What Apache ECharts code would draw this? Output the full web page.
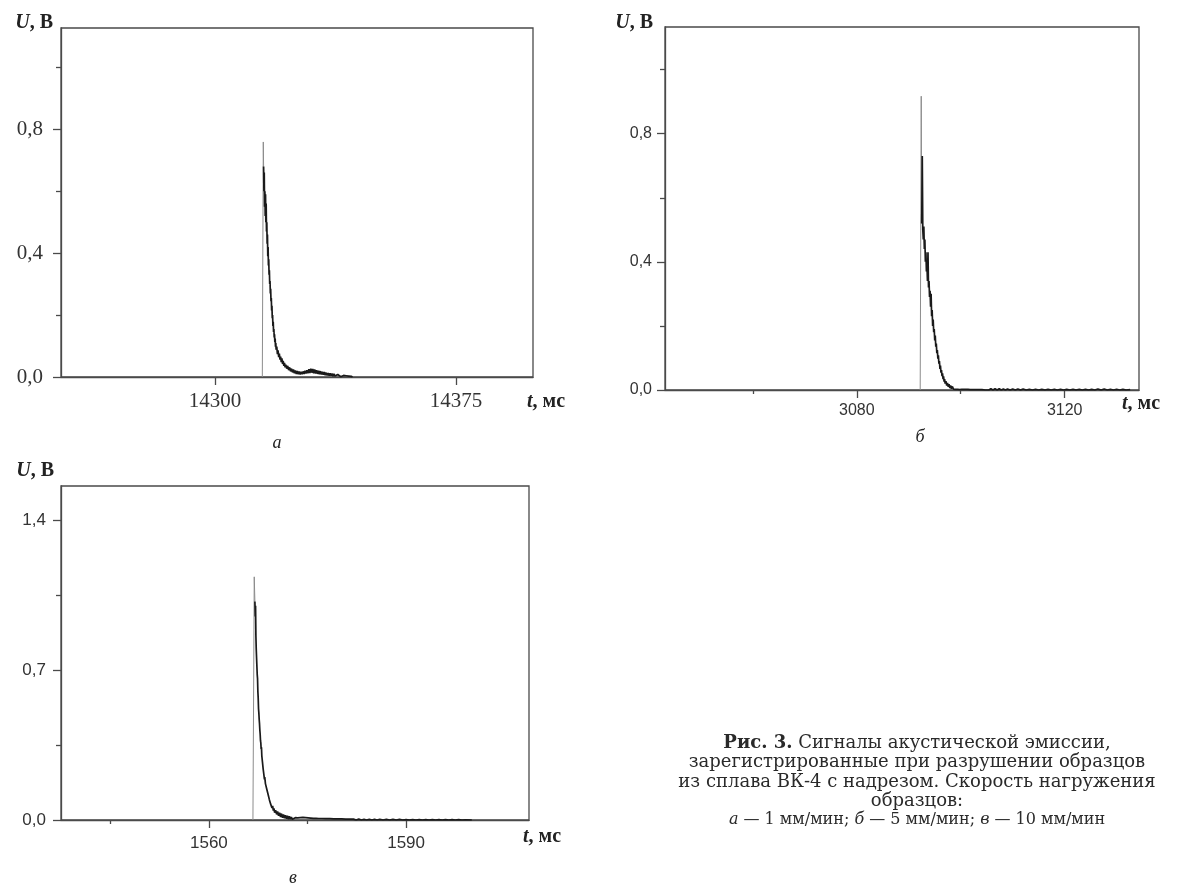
<!DOCTYPE html>
<html>
<head>
<meta charset="utf-8">
<script src="https://cdn.jsdelivr.net/npm/echarts@6.0.0/dist/echarts.min.js"></script>
<style>
html, body { margin: 0; padding: 0; background: #fff; }
#chart { width: 1178px; height: 884px; }
</style>
</head>
<body>
<div id="chart"></div>
<script>
// ---- panel а (1 мм/мин) ----
var edgeA = [[14314.7, 0], [14315.0, 0.759], [14315.1, 0.68]];
var signalA = [[14315.1,0.68],[14315.2,0.60],[14315.3,0.66],[14315.4,0.55],[14315.5,0.60],[14315.6,0.52],[14315.7,0.59],[14315.8,0.50],[14315.9,0.56],[14316.0,0.47],[14316.1,0.50],[14316.2,0.43],[14316.3,0.46],[14316.4,0.39],[14316.5,0.42],[14316.6,0.36],[14316.7,0.38],[14316.8,0.33],[14316.9,0.345],[14317.0,0.30],[14317.1,0.31],[14317.2,0.27],[14317.3,0.285],[14317.4,0.245],[14317.5,0.255],[14317.6,0.215],[14317.7,0.23],[14317.8,0.19],[14317.9,0.20],[14318.0,0.165],[14318.1,0.178],[14318.2,0.145],[14318.3,0.155],[14318.4,0.128],[14318.5,0.138],[14318.6,0.112],[14318.7,0.124],[14318.8,0.098],[14318.9,0.11],[14319.0,0.088],[14319.2,0.098],[14319.4,0.074],[14319.6,0.086],[14319.8,0.064],[14320.0,0.076],[14320.2,0.056],[14320.4,0.066],[14320.6,0.048],[14320.8,0.06],[14321.0,0.042],[14321.2,0.052],[14321.4,0.036],[14321.6,0.046],[14321.8,0.031],[14322.0,0.04],[14322.3,0.027],[14322.6,0.036],[14322.9,0.022],[14323.2,0.031],[14323.5,0.018],[14323.8,0.027],[14324.1,0.015],[14324.4,0.024],[14324.7,0.012],[14325.0,0.021],[14325.3,0.010],[14325.6,0.019],[14325.9,0.009],[14326.2,0.018],[14326.5,0.008],[14326.8,0.017],[14327.1,0.009],[14327.4,0.018],[14327.7,0.010],[14328.0,0.02],[14328.3,0.011],[14328.6,0.022],[14328.9,0.012],[14329.2,0.025],[14329.5,0.013],[14329.8,0.027],[14330.1,0.014],[14330.4,0.026],[14330.7,0.012],[14331.0,0.024],[14331.3,0.011],[14331.6,0.022],[14331.9,0.010],[14332.2,0.02],[14332.5,0.009],[14332.8,0.019],[14333.1,0.008],[14333.4,0.017],[14333.7,0.007],[14334.0,0.016],[14334.3,0.006],[14334.6,0.014],[14334.9,0.005],[14335.2,0.013],[14335.5,0.004],[14335.8,0.012],[14336.1,0.004],[14336.4,0.011],[14336.7,0.003],[14337.0,0.01],[14337.3,0.003],[14337.6,0.009],[14337.9,0.002],[14338.2,0.008],[14338.5,0.002],[14338.8,0.007],[14339.1,0.001],[14339.4,0.006],[14339.7,0.001],[14340.0,0.005],[14340.4,0.001],[14340.8,0.004],[14341.2,0.0],[14341.6,0.003],[14342.0,0.0],[14342.4,0.002],[14342.8,0.0]];
var rangeA = [14252, 14399, 0, 1.127];
var xLabelsA = [14300, 14375];
var xMinorA = [];
var yLabelsA = [0, 0.4, 0.8];
var yMinorA = [0.2, 0.6, 1.0];

// ---- panel б (5 мм/мин) ----
var edgeB = [[3092.2, 0], [3092.4, 0.917], [3092.5, 0.52]];
var signalB = [[3092.5,0.52],[3092.6,0.73],[3092.7,0.50],[3092.8,0.47],[3092.9,0.51],[3093.0,0.44],[3093.1,0.47],[3093.2,0.40],[3093.3,0.43],[3093.4,0.37],[3093.5,0.39],[3093.6,0.34],[3093.7,0.43],[3093.8,0.32],[3093.9,0.34],[3094.0,0.29],[3094.1,0.31],[3094.2,0.26],[3094.3,0.30],[3094.4,0.23],[3094.5,0.25],[3094.6,0.20],[3094.7,0.22],[3094.8,0.18],[3094.9,0.19],[3095.0,0.155],[3095.1,0.17],[3095.2,0.135],[3095.3,0.145],[3095.4,0.115],[3095.5,0.125],[3095.6,0.098],[3095.7,0.108],[3095.8,0.082],[3095.9,0.09],[3096.0,0.066],[3096.1,0.076],[3096.2,0.054],[3096.3,0.062],[3096.4,0.043],[3096.5,0.052],[3096.6,0.034],[3096.7,0.043],[3096.8,0.026],[3096.9,0.034],[3097.0,0.02],[3097.15,0.028],[3097.3,0.014],[3097.45,0.022],[3097.6,0.01],[3097.75,0.018],[3097.9,0.006],[3098.05,0.014],[3098.2,0.004],[3098.4,0.011],[3098.6,0.003],[3098.8,0.009],[3099.0,0.002],[3099.2,0.008],[3099.4,0.002],[3099.6,0.007],[3099.8,0.001],[3100.0,0.006],[3100.2,0.002],[3100.4,0.007],[3100.6,0.002],[3100.8,0.008],[3101.0,0.002],[3101.2,0.007],[3101.4,0.002],[3101.6,0.007],[3101.8,0.001],[3102.0,0.006],[3102.3,0.001],[3102.6,0.006],[3102.9,0.001],[3103.2,0.005],[3103.5,0.001],[3103.8,0.005],[3104.1,0.001],[3104.4,0.005],[3104.7,0.0],[3105.0,0.004],[3105.4,0.0],[3105.8,0.004],[3106.2,0.0],[3106.6,0.004],[3107.0,0.0],[3107.4,0.004],[3107.8,0.0],[3108.2,0.003],[3108.6,0.0],[3109.0,0.003],[3109.5,0.0],[3110.0,0.003],[3110.5,0.0],[3111.0,0.003],[3111.5,0.0],[3112,0.003],[3112.6,0.0],[3113.2,0.002],[3113.8,0.0],[3114.4,0.002],[3115,0.0],[3115.6,0.002],[3116.2,0.0],[3116.8,0.002],[3117.4,0.0],[3118,0.002],[3118.6,0.0],[3119.2,0.002],[3119.8,0.0],[3120.4,0.002],[3121,0.0],[3121.6,0.002],[3122.2,0.0],[3122.8,0.002],[3123.4,0.0],[3124,0.002],[3124.6,0.0],[3125.2,0.002],[3125.8,0.0],[3126.4,0.003],[3127,0.0],[3127.6,0.003],[3128.2,0.0],[3128.8,0.002],[3129.4,0.0],[3130,0.002],[3130.6,0.0],[3131.2,0.002],[3131.8,0.0],[3132.6,0.001]];
var rangeB = [3043.1, 3134.3, 0, 1.133];
var xLabelsB = [3080, 3120];
var xMinorB = [3060, 3100];
var yLabelsB = [0, 0.4, 0.8];
var yMinorB = [0.2, 0.6, 1.0];

// ---- panel в (10 мм/мин) ----
var edgeC = [[1566.7, 0], [1566.9, 1.135], [1567.0, 1.02]];
var signalC = [[1567.0,1.02],[1567.05,0.95],[1567.1,1.0],[1567.15,0.86],[1567.2,0.80],[1567.25,0.76],[1567.3,0.72],[1567.35,0.68],[1567.4,0.66],[1567.45,0.60],[1567.5,0.57],[1567.55,0.52],[1567.6,0.50],[1567.65,0.47],[1567.7,0.45],[1567.75,0.42],[1567.8,0.40],[1567.85,0.37],[1567.9,0.36],[1567.95,0.33],[1568.0,0.34],[1568.05,0.30],[1568.1,0.30],[1568.15,0.27],[1568.2,0.27],[1568.25,0.24],[1568.3,0.245],[1568.35,0.215],[1568.4,0.22],[1568.45,0.19],[1568.5,0.2],[1568.6,0.17],[1568.7,0.175],[1568.8,0.145],[1568.9,0.15],[1569.0,0.12],[1569.1,0.125],[1569.2,0.095],[1569.3,0.1],[1569.4,0.074],[1569.5,0.08],[1569.6,0.056],[1569.7,0.066],[1569.8,0.044],[1569.9,0.054],[1570.0,0.034],[1570.15,0.046],[1570.3,0.026],[1570.45,0.04],[1570.6,0.02],[1570.75,0.034],[1570.9,0.014],[1571.05,0.03],[1571.2,0.01],[1571.35,0.026],[1571.5,0.008],[1571.65,0.022],[1571.8,0.006],[1571.95,0.02],[1572.1,0.004],[1572.25,0.017],[1572.4,0.004],[1572.55,0.014],[1572.7,0.003],[1572.85,0.012],[1573.0,0.002],[1573.15,0.011],[1573.3,0.002],[1573.5,0.01],[1573.7,0.002],[1573.9,0.011],[1574.1,0.003],[1574.3,0.012],[1574.5,0.003],[1574.7,0.011],[1574.9,0.002],[1575.1,0.01],[1575.3,0.002],[1575.5,0.009],[1575.7,0.001],[1575.9,0.008],[1576.1,0.001],[1576.3,0.008],[1576.5,0.001],[1576.7,0.007],[1576.9,0.001],[1577.2,0.007],[1577.5,0.001],[1577.8,0.006],[1578.1,0.0],[1578.4,0.006],[1578.7,0.0],[1579.0,0.005],[1579.3,0.0],[1579.6,0.005],[1579.9,0.0],[1580.2,0.005],[1580.5,0.0],[1580.8,0.004],[1581.1,0.0],[1581.4,0.004],[1581.7,0.0],[1582.0,0.004],[1582.4,0.0],[1582.8,0.004],[1583.2,0.0],[1583.6,0.003],[1584.0,0.0],[1584.4,0.003],[1584.8,0.0],[1585.2,0.003],[1585.6,0.0],[1586.0,0.003],[1586.5,0.0],[1587.0,0.003],[1587.5,0.0],[1588.0,0.003],[1588.5,0.0],[1589.0,0.003],[1589.5,0.0],[1590.0,0.002],[1590.5,0.0],[1591.0,0.002],[1591.5,0.0],[1592.0,0.002],[1592.5,0.0],[1593.0,0.002],[1593.5,0.0],[1594.0,0.002],[1594.5,0.0],[1595.0,0.002],[1595.5,0.0],[1596.0,0.002],[1596.5,0.0],[1597.0,0.002],[1597.5,0.0],[1598.0,0.002],[1598.5,0.0],[1599.0,0.001],[1600,0.0]];
var rangeC = [1537.5, 1608.7, 0, 1.559];
var xLabelsC = [1560, 1590];
var xMinorC = [1545, 1575];
var yLabelsC = [0, 0.7, 1.4];
var yMinorC = [0.35, 1.05];

var panelLetters = ['а', 'б', 'в'];
var captionLines = [
    '{b|Рис. 3.} Сигналы акустической эмиссии,',
    'зарегистрированные при разрушении образцов',
    'из сплава ВК-4 с надрезом. Скорость нагружения',
    'образцов:',
    '{i|а} — 1 мм/мин; {i|б} — 5 мм/мин; {i|в} — 10 мм/мин'
];

var SERIF = "'Liberation Serif', 'DejaVu Serif', serif";
var WIDE_SERIF = "'DejaVu Serif', 'Liberation Serif', serif";
var SANS = "'Liberation Sans', Arial, sans-serif";
var AXIS_COLOR = '#4a4a4a';

var panels = [
    {edge: edgeA, signal: signalA, range: rangeA, xLabels: xLabelsA, xMinor: xMinorA, yLabels: yLabelsA, yMinor: yMinorA,
        box: {left: 61, top: 28, width: 472, height: 349}, font: SERIF, fontSize: 21, yMargin: 18, xMargin: 14},
    {edge: edgeB, signal: signalB, range: rangeB, xLabels: xLabelsB, xMinor: xMinorB, yLabels: yLabelsB, yMinor: yMinorB,
        box: {left: 665, top: 27, width: 474, height: 363}, font: SANS, fontSize: 16, yMargin: 13, xMargin: 13},
    {edge: edgeC, signal: signalC, range: rangeC, xLabels: xLabelsC, xMinor: xMinorC, yLabels: yLabelsC, yMinor: yMinorC,
        box: {left: 61, top: 486, width: 468, height: 334}, font: SANS, fontSize: 17, yMargin: 15, xMargin: 15}
];

function comma(v) {
    return v.toFixed(1).replace('.', ',');
}

var grids = [], xAxes = [], yAxes = [], series = [];

panels.forEach(function (p, i) {
    var r = p.range;
    grids.push({
        left: p.box.left, top: p.box.top, width: p.box.width, height: p.box.height,
        show: true, borderColor: AXIS_COLOR, borderWidth: 1.3, backgroundColor: 'transparent'
    });
    var lineStyle = {color: AXIS_COLOR, width: 1.3};
    // major x axis
    xAxes.push({
        type: 'value', gridIndex: i, min: r[0], max: r[1], position: 'bottom',
        axisLine: {show: true, lineStyle: lineStyle},
        axisTick: {show: true, inside: false, length: 8, lineStyle: lineStyle, customValues: p.xLabels},
        axisLabel: {customValues: p.xLabels, margin: p.xMargin, color: '#333', fontFamily: p.font, fontSize: p.fontSize,
            formatter: function (v) { return String(v); }},
        splitLine: {show: false}
    });
    // minor x ticks
    xAxes.push({
        type: 'value', gridIndex: i, min: r[0], max: r[1], position: 'bottom',
        show: p.xMinor.length > 0,
        axisLine: {show: false},
        axisTick: {show: true, inside: false, length: 4, lineStyle: lineStyle, customValues: p.xMinor},
        axisLabel: {show: false},
        splitLine: {show: false}
    });
    // major y axis
    yAxes.push({
        type: 'value', gridIndex: i, min: r[2], max: r[3], position: 'left',
        axisLine: {show: true, lineStyle: lineStyle},
        axisTick: {show: true, inside: false, length: 8, lineStyle: lineStyle, customValues: p.yLabels},
        axisLabel: {customValues: p.yLabels, margin: p.yMargin, color: '#333', fontFamily: p.font, fontSize: p.fontSize,
            formatter: comma},
        splitLine: {show: false}
    });
    // minor y ticks
    yAxes.push({
        type: 'value', gridIndex: i, min: r[2], max: r[3], position: 'left',
        axisLine: {show: false},
        axisTick: {show: true, inside: false, length: 5, lineStyle: lineStyle, customValues: p.yMinor},
        axisLabel: {show: false},
        splitLine: {show: false}
    });
    series.push({
        type: 'line', xAxisIndex: 2 * i, yAxisIndex: 2 * i, data: p.edge,
        showSymbol: false, symbol: 'none', lineStyle: {color: '#8c8c8c', width: 1}, z: 2
    });
    series.push({
        type: 'line', xAxisIndex: 2 * i, yAxisIndex: 2 * i, data: p.signal,
        showSymbol: false, symbol: 'none', lineStyle: {color: '#1a1a1a', width: 1.7}, z: 3
    });
});

function unitLabel(x, y, text, size, align) {
    return {
        type: 'text', x: x, y: y,
        style: {
            text: text, align: align || 'right', verticalAlign: 'middle',
            rich: {
                i: {fontFamily: SERIF, fontStyle: 'italic', fontWeight: 'bold', fontSize: size, fill: '#222'},
                n: {fontFamily: SERIF, fontWeight: 'bold', fontSize: size, fill: '#222'}
            }
        }
    };
}

var graphics = [
    unitLabel(53, 23, '{i|U}{n|, В}', 20),
    unitLabel(653, 23, '{i|U}{n|, В}', 20),
    unitLabel(54, 471, '{i|U}{n|, В}', 20),
    unitLabel(527, 402, '{i|t}{n|, мс}', 20, 'left'),
    unitLabel(1122, 404, '{i|t}{n|, мс}', 20, 'left'),
    unitLabel(523, 837, '{i|t}{n|, мс}', 20, 'left')
];

var letterPos = [[277, 443], [920, 437], [293, 878]];
panelLetters.forEach(function (t, i) {
    graphics.push({
        type: 'text', x: letterPos[i][0], y: letterPos[i][1],
        style: {text: t, align: 'center', verticalAlign: 'middle',
            font: 'italic 18px ' + SERIF, fill: '#222'}
    });
});

var captionY = [743, 762.5, 782, 801.5, 820];
captionLines.forEach(function (line, i) {
    var size = i === 4 ? 16 : 18;
    graphics.push({
        type: 'text', x: 917, y: captionY[i],
        style: {
            text: line, align: 'center', verticalAlign: 'middle',
            fontFamily: WIDE_SERIF, fontSize: size, fill: '#2a2a2a',
            rich: {
                b: {fontFamily: WIDE_SERIF, fontWeight: 'bold', fontSize: size, fill: '#2a2a2a'},
                i: {fontFamily: WIDE_SERIF, fontStyle: 'italic', fontSize: size, fill: '#2a2a2a'}
            }
        }
    });
});

var chart = echarts.init(document.getElementById('chart'));
chart.setOption({
    animation: false,
    backgroundColor: '#ffffff',
    grid: grids,
    xAxis: xAxes,
    yAxis: yAxes,
    series: series,
    graphic: graphics
});
</script>
</body>
</html>
